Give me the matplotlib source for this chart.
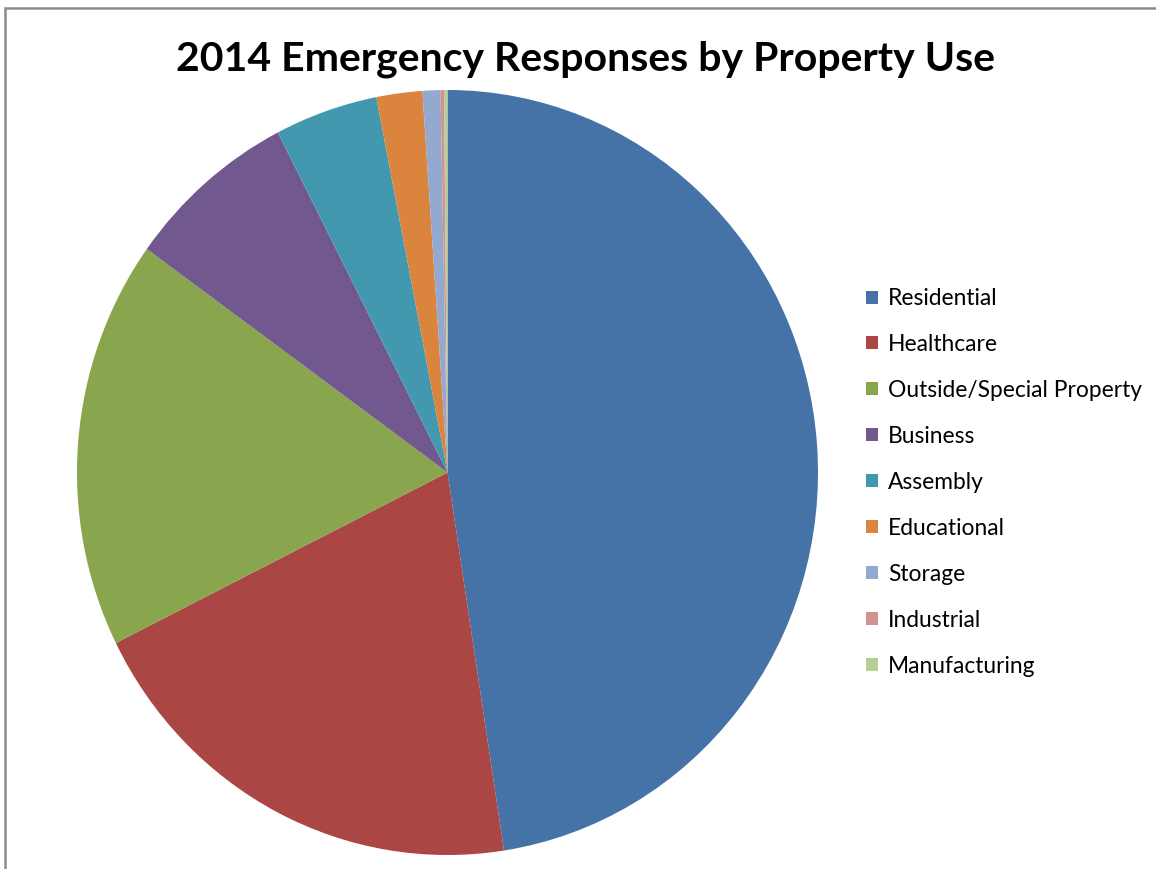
import matplotlib
matplotlib.use("Agg")
import matplotlib.pyplot as plt
from matplotlib.patches import Patch, Rectangle

# Share of 2014 emergency responses (%) by property use
categories = ["Residential", "Healthcare", "Outside/Special Property", "Business",
              "Assembly", "Educational", "Storage", "Industrial", "Manufacturing"]
shares = [47.6, 20.1, 17.3, 7.5, 4.5, 2.0, 0.78, 0.15, 0.15]
colors = ["#4572A7", "#AA4643", "#89A54E", "#71588F", "#4198AF",
          "#DB843D", "#93A9CF", "#D19392", "#B9CD96"]
title = "2014 Emergency Responses by Property Use"

W, H = 1156, 869
fig = plt.figure(figsize=(W / 100, H / 100), dpi=100)
fig.patch.set_facecolor("white")

# chart frame (left and top edges visible)
fig.patches.append(Rectangle((5 / W, -0.1), 1.2, 1 - 8 / H + 0.1,
                             transform=fig.transFigure, fill=False,
                             edgecolor="#8a8a8a", linewidth=1.8))

# pie area in pixels
cx, cy, rx, ry = 447.5, 472.5, 370.5, 382.5
ax = fig.add_axes([(cx - rx) / W, (H - cy - ry) / H, 2 * rx / W, 2 * ry / H])
ax.pie(shares, colors=colors, startangle=90, counterclock=False,
       radius=1, wedgeprops=dict(linewidth=0, antialiased=True))
ax.set_aspect("auto")
ax.set_xlim(-1, 1)
ax.set_ylim(-1, 1)
ax.axis("off")

fig.text(585 / W, 1 - 59 / H, title, ha="center", va="center",
         fontsize=29.5, fontweight="bold", family=["Lato", "DejaVu Sans"])

handles = [Patch(facecolor=c, edgecolor="none") for c in colors]
fig.legend(handles, categories, loc="upper left",
           bbox_to_anchor=(857 / W, 1 - 279 / H), frameon=False,
           prop=dict(family=["Lato", "DejaVu Sans"], size=16.4),
           handlelength=0.5, handleheight=0.5, handletextpad=0.45,
           labelspacing=1.095, borderaxespad=0)

fig.savefig("out.png", dpi=100, facecolor="white")
